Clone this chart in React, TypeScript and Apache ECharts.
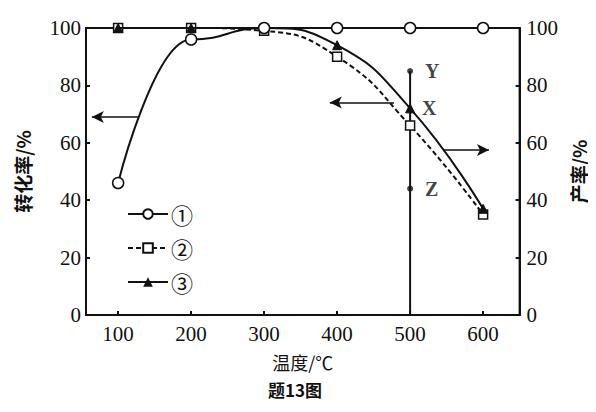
import React, { useEffect, useRef } from "react";
import * as echarts from "echarts";

const temps = [100, 200, 300, 400, 500, 600];
const series1 = [46, 96, 100, 100, 100, 100];
const series2 = [100, 100, 99, 90, 66, 35];
const series3 = [100, 100, 100, 94, 72, 37];
const xTicks = [100, 200, 300, 400, 500, 600];
const pointNames = ["Y", "X", "Z"];
const pointValues = [85, 72, 44];
const pointTemp = 500;
// arrows: [fromT, toT, y]
const arrows = [
  [128, 64, 69],
  [478, 390, 74],
  [546, 608, 57.5],
];

const serif = "'Liberation Serif', 'DejaVu Serif', serif";
const cjk = "'Noto Sans CJK SC', sans-serif";

export default function App() {
  const ref = useRef<HTMLDivElement>(null);
  useEffect(() => {
    const chart = echarts.init(ref.current!, null, { renderer: "svg" });
    const pair = (vals: number[]) => temps.map((t, i) => [t, vals[i]]);
    const axisLabel = { fontFamily: serif, fontSize: 21, color: "#111" };
    chart.setOption({
      animation: false,
      backgroundColor: "#fff",
      grid: {
        left: 86,
        right: 73,
        top: 28,
        bottom: 97,
        show: true,
        borderColor: "#111",
        borderWidth: 2,
      },
      legend: {
        orient: "vertical",
        left: 122,
        top: 198,
        itemWidth: 40,
        itemHeight: 12,
        itemGap: 12,
        data: ["①", "②", "③"],
        textStyle: { fontFamily: cjk, fontSize: 22, color: "#111", padding: [0, 0, 0, -2] },
      },
      xAxis: {
        type: "value",
        min: 56,
        max: 650,
        name: "温度/℃",
        nameLocation: "middle",
        nameGap: 38,
        nameTextStyle: { fontFamily: cjk, fontSize: 18, color: "#111" },
        axisLine: { lineStyle: { color: "#111", width: 2 } },
        axisTick: { inside: true, length: 4, customValues: xTicks, lineStyle: { color: "#111", width: 2 } },
        axisLabel: { ...axisLabel, margin: 8, customValues: xTicks },
        splitLine: { show: false },
      },
      yAxis: [
        {
          type: "value",
          min: 0,
          max: 100,
          interval: 20,
          position: "left",
          name: "转化率/%",
          nameLocation: "middle",
          nameRotate: 90,
          nameGap: 54,
          nameTextStyle: { fontFamily: cjk, fontSize: 19, color: "#111", fontWeight: "bold" },
          axisLine: { show: true, lineStyle: { color: "#111", width: 2 } },
          axisTick: { inside: true, length: 4, lineStyle: { color: "#111", width: 2 } },
          axisLabel: { ...axisLabel, margin: 5 },
          splitLine: { show: false },
        },
        {
          type: "value",
          min: 0,
          max: 100,
          interval: 20,
          position: "right",
          name: "产率/%",
          nameLocation: "middle",
          nameRotate: 90,
          nameGap: 46,
          nameTextStyle: { fontFamily: cjk, fontSize: 19, color: "#111", fontWeight: "bold" },
          axisLine: { show: true, lineStyle: { color: "#111", width: 2 } },
          axisTick: { inside: true, length: 4, lineStyle: { color: "#111", width: 2 } },
          axisLabel: { ...axisLabel, margin: 7 },
          splitLine: { show: false },
        },
      ],
      series: [
        {
          name: "vline",
          type: "line",
          data: [
            [pointTemp, 0],
            [pointTemp, pointValues[0]],
          ],
          symbol: "none",
          lineStyle: { color: "#111", width: 2 },
          z: 1,
        },
        {
          name: "②",
          type: "line",
          data: pair(series2),
          smooth: 0.5,
          symbol: "rect",
          symbolSize: 9,
          itemStyle: { color: "#fff", borderColor: "#111", borderWidth: 1.5 },
          lineStyle: { color: "#111", width: 2, type: [5, 3] },
          z: 3,
        },
        {
          name: "③",
          type: "line",
          data: pair(series3),
          smooth: 0.5,
          symbol: "triangle",
          symbolSize: 9,
          itemStyle: { color: "#111", borderColor: "#111" },
          lineStyle: { color: "#111", width: 2 },
          z: 4,
        },
        {
          name: "①",
          type: "line",
          data: pair(series1),
          smooth: 0.5,
          smoothMonotone: "x",
          symbol: "circle",
          symbolSize: 11,
          itemStyle: { color: "#fff", borderColor: "#111", borderWidth: 1.5 },
          lineStyle: { color: "#111", width: 2 },
          z: 5,
          markLine: {
            silent: true,
            symbol: ["none", "arrow"],
            symbolSize: [9, 12],
            label: { show: false },
            lineStyle: { color: "#111", width: 1.5, type: "solid" },
            data: arrows.map(([a, b, y]) => [{ coord: [a, y] }, { coord: [b, y] }]),
          },
        },
        {
          name: "pts",
          type: "scatter",
          data: pointNames.map((n, i) => ({ name: n, value: [pointTemp, pointValues[i]] })),
          symbolSize: (v: any, p: any) => (p.name === "X" ? 0 : 6),
          itemStyle: { color: "#111" },
          label: {
            show: true,
            position: "right",
            distance: 12,
            formatter: "{b}",
            fontFamily: serif,
            fontWeight: "bold",
            fontSize: 20,
            color: "#111",
          },
          z: 6,
        },
      ],
      graphic: [
        {
          type: "text",
          left: 268,
          top: 381,
          style: { text: "题13图", fontFamily: cjk, fontSize: 17, fontWeight: "bold", fill: "#111" },
        },
      ],
    });
    return () => chart.dispose();
  }, []);
  return <div ref={ref} style={{ width: 596, height: 412, margin: -8 }} />;
}
